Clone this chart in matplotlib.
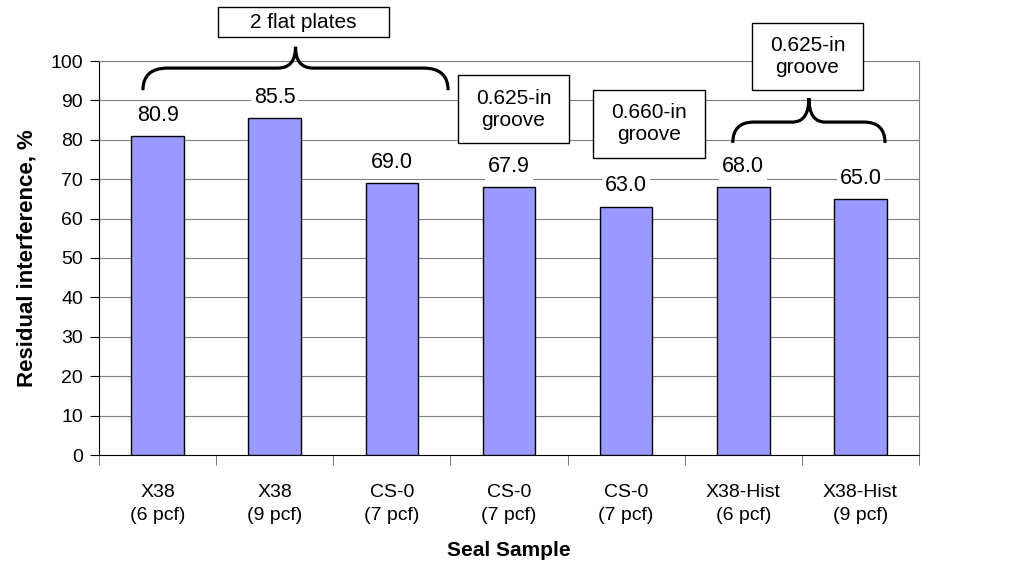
import matplotlib.pyplot as plt
import numpy as np
from matplotlib.path import Path
from matplotlib.patches import PathPatch, Rectangle

plt.rcParams["font.family"] = ["Liberation Sans", "DejaVu Sans"]

samples = ["X38", "X38", "CS-0", "CS-0", "CS-0", "X38-Hist", "X38-Hist"]
densities = ["6 pcf", "9 pcf", "7 pcf", "7 pcf", "7 pcf", "6 pcf", "9 pcf"]
residual = [80.9, 85.5, 69.0, 67.9, 63.0, 68.0, 65.0]

W, H = 1010, 568


def brace(ax, x0, x1, yb, yh, yt, r=0.21, rm=0.15):
    # curly brace drawn in data coordinates, tip pointing up
    xm = (x0 + x1) / 2
    verts = [(x0, yb), (x0, yh), (x0 + r, yh), (xm - rm, yh),
             (xm, yh), (xm, yt),
             (xm, yt), (xm, yh), (xm + rm, yh), (x1 - r, yh),
             (x1, yh), (x1, yb)]
    codes = [Path.MOVETO, Path.CURVE3, Path.CURVE3, Path.LINETO,
             Path.CURVE3, Path.CURVE3,
             Path.MOVETO, Path.CURVE3, Path.CURVE3, Path.LINETO,
             Path.CURVE3, Path.CURVE3]
    ax.add_patch(PathPatch(Path(verts, codes), fill=False, lw=2.3,
                           color="black", clip_on=False, capstyle="butt",
                           joinstyle="round", zorder=6))


def label_box(fig, left, top, right, bottom, text):
    # box given in pixels from the top-left corner of the figure
    fig.add_artist(Rectangle((left / W, 1 - bottom / H), (right - left) / W,
                             (bottom - top) / H, transform=fig.transFigure,
                             facecolor="white", edgecolor="black", lw=1,
                             zorder=5))
    fig.text((left + right) / 2 / W, 1 - (top + bottom) / 2 / H, text,
             ha="center", va="center", fontsize=15, linespacing=1.2,
             zorder=6)


fig = plt.figure(figsize=(W / 100, H / 100), dpi=100)
ax = fig.add_axes([99 / W, 1 - 455 / H, 820 / W, 394 / H])

x = np.arange(len(residual))
ax.bar(x, residual, width=0.45, color="#9999FF", edgecolor="black",
       linewidth=1, zorder=3)

for xi, v in zip(x, residual):
    ax.annotate(f"{v:.1f}", (xi, v), xytext=(0, 15), textcoords="offset points",
                ha="center", va="center", fontsize=15.5, zorder=4,
                bbox=dict(facecolor="white", edgecolor="none", pad=2))

ax.set_xlim(-0.5, 6.5)
ax.set_ylim(0, 100)
ax.set_yticks(np.arange(0, 101, 10))
ax.yaxis.grid(True, color="#808080", lw=0.8, zorder=0)
ax.set_axisbelow(True)
ax.set_xticks(x)
ax.set_xticklabels([f"{s}\n({d})" for s, d in zip(samples, densities)],
                   fontsize=14, linespacing=1.45)
ax.set_xticks(np.arange(-0.5, 7, 1), minor=True)
ax.tick_params(axis="x", which="major", length=0, pad=21)
ax.tick_params(axis="x", which="minor", length=7, color="#606060")
ax.tick_params(axis="y", labelsize=14, length=6.5, pad=5)
for s in ["top", "right"]:
    ax.spines[s].set_color("#808080")
ax.set_xlabel("Seal Sample", fontsize=15, fontweight="bold", labelpad=12)
ax.set_ylabel("Residual interference, %", fontsize=16, fontweight="bold",
              labelpad=9)

label_box(fig, 218, 7, 389, 37, "2 flat plates")
label_box(fig, 458, 75, 569, 143, "0.625-in\ngroove")
label_box(fig, 593, 90, 705, 158, "0.660-in\ngroove")
label_box(fig, 752, 23, 863, 90, "0.625-in\ngroove")

brace(ax, -0.125, 2.48, 92.6, 98.2, 103.6)
brace(ax, 4.91, 6.21, 79.2, 84.5, 90.6, r=0.18, rm=0.14)

fig.savefig("out.png", dpi=100)
